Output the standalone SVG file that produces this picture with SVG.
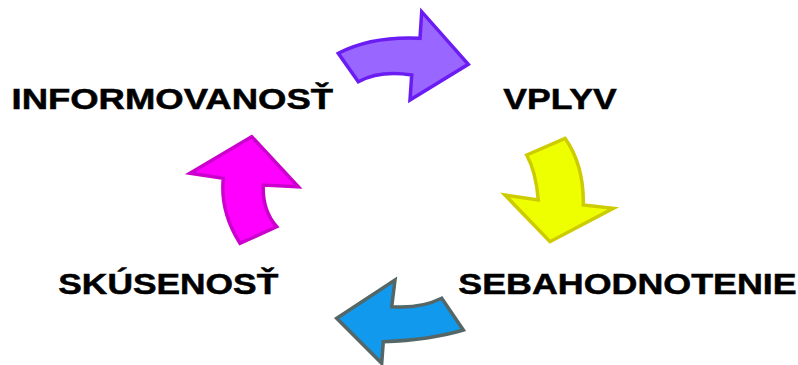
<svg xmlns="http://www.w3.org/2000/svg" width="798" height="365" viewBox="0 0 798 365">
<style>
.lbl{font-family:"Liberation Sans",Arial,sans-serif;font-weight:bold;font-size:29px;fill:#000;stroke:#000;stroke-width:0.5}
.arr{stroke-width:3.5;stroke-linejoin:miter}
</style>
<rect width="798" height="365" fill="#fff"/>
<g id="connectors">
<path id="arrow-purple" class="arr" fill="#9966ff" stroke="#6a1cf2" d="M338.3,53.3 Q372,36 420,38.3 L421.7,11.7 L468.3,64.3 L410,100 L411.7,75 Q380,70 358.3,81.7 Z"/>
<path id="arrow-yellow" class="arr" fill="#eeff00" stroke="#cccc00" d="M526.7,155 L565,138.3 Q584,165 583.3,205 L613.3,208.3 L550,241.7 L505,195 L538.3,200 Q536,172 526.7,155 Z"/>
<path id="arrow-blue" class="arr" fill="#1199ee" stroke="#556666" d="M441.7,298.3 Q420,309 391.7,306.7 L395,280 L336.7,318.3 L381.7,363.3 L383.3,341.7 Q430,340 463.3,330 Z"/>
<path id="arrow-magenta" class="arr" fill="#ff00ff" stroke="#cc00cc" d="M251.7,136.7 L298.3,186.7 L263.3,185 Q262,210 276.7,226.7 L240,243.3 Q220,212 223.3,178.3 L190,173.3 Z"/>
</g>
<g id="node-informovanost"><text class="lbl" x="11.5" y="108.5" textLength="321.5" lengthAdjust="spacingAndGlyphs">INFORMOVANOSŤ</text></g>
<g id="node-vplyv"><text class="lbl" x="503.3" y="108.5" textLength="113.4" lengthAdjust="spacingAndGlyphs">VPLYV</text></g>
<g id="node-sebahodnotenie"><text class="lbl" x="458.3" y="293.5" textLength="338.4" lengthAdjust="spacingAndGlyphs">SEBAHODNOTENIE</text></g>
<g id="node-skusenost"><text class="lbl" x="58.3" y="293.5" textLength="220" lengthAdjust="spacingAndGlyphs">SKÚSENOSŤ</text></g>
</svg>
